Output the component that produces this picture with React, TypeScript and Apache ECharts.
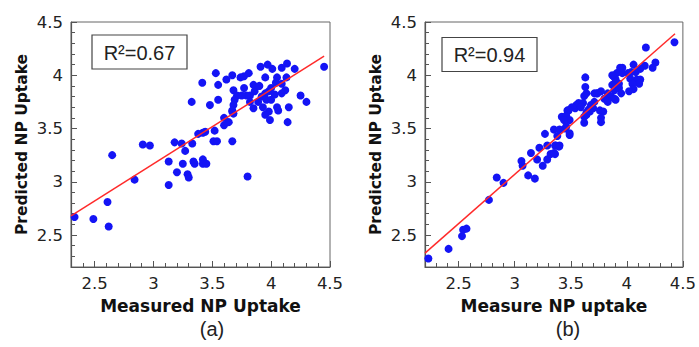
import React, { useEffect, useRef } from "react";
import * as echarts from "echarts";

// ---- Data ----
// (a) Measured vs Predicted NP Uptake
const pointsA: [number, number][] = [
  [2.33, 2.67], [2.49, 2.65], [2.62, 2.58], [2.61, 2.81], [2.65, 3.25], [2.84, 3.02],
  [2.91, 3.35], [2.97, 3.34], [3.13, 2.97], [3.13, 3.19], [3.2, 3.09], [3.25, 3.17],
  [3.27, 3.29], [3.18, 3.37], [3.24, 3.36], [3.29, 3.07], [3.3, 3.04], [3.33, 3.36],
  [3.34, 3.19], [3.35, 3.17], [3.42, 3.21], [3.42, 3.17], [3.45, 3.17], [3.8, 3.05],
  [3.51, 3.38], [3.54, 3.38], [3.67, 3.38], [3.38, 3.45], [3.42, 3.46], [3.44, 3.47],
  [3.52, 3.48], [3.6, 3.6], [3.64, 3.56], [3.6, 3.53], [3.67, 3.66],
  [3.91, 4.08], [3.97, 4.1], [4.01, 4.06], [4.09, 4.07], [4.135, 4.11], [4.2, 4.06], [4.45, 4.08],
  [3.53, 4.02], [3.67, 4.0], [3.74, 3.98], [3.77, 3.99], [3.81, 4.02], [3.62, 3.96],
  [3.95, 3.98], [4.05, 3.98], [4.13, 3.98], [3.415, 3.93], [3.55, 3.91], [3.68, 3.86],
  [3.325, 3.75], [3.48, 3.72], [3.55, 3.77],
  [3.85, 3.91], [4.09, 3.92], [4.12, 3.86], [4.0, 3.88], [3.98, 3.85], [3.95, 3.83],
  [3.92, 3.8], [3.86, 3.85], [3.82, 3.81], [3.79, 3.81], [3.75, 3.81], [3.71, 3.81],
  [3.69, 3.77], [3.68, 3.72], [3.67, 3.67], [3.68, 3.64], [3.82, 3.75], [3.85, 3.69],
  [3.89, 3.75], [3.96, 3.77], [4.0, 3.77], [4.05, 3.7], [4.06, 3.67], [4.09, 3.83],
  [3.98, 3.66], [3.95, 3.63], [3.99, 3.58], [4.15, 3.7], [4.14, 3.56], [4.25, 3.81],
  [4.3, 3.75], [3.93, 3.7], [3.9, 3.9], [4.04, 3.93], [3.77, 3.88], [4.03, 3.82],
];
const fitA: [number, number][] = [[2.3, 2.68], [4.45, 4.18]];

// (b) Measure vs Predicted NP uptake
const pointsB: [number, number][] = [
  [2.23, 2.28], [2.41, 2.37], [2.53, 2.49], [2.54, 2.55], [2.57, 2.56], [2.77, 2.83],
  [2.84, 3.04], [2.9, 2.99], [3.06, 3.195], [3.07, 3.15], [3.12, 3.06], [3.18, 3.03],
  [3.145, 3.27], [3.2, 3.21], [3.25, 3.15], [3.22, 3.32], [3.29, 3.21], [3.29, 3.34],
  [3.32, 3.26], [3.36, 3.26], [3.36, 3.34], [3.4, 3.34], [3.365, 3.34], [3.395, 3.33],
  [3.35, 3.27], [3.27, 3.45], [3.35, 3.49], [3.38, 3.43], [3.42, 3.61], [3.45, 3.5],
  [3.49, 3.44], [3.47, 3.67], [3.51, 3.7], [3.54, 3.69], [3.55, 3.72], [3.58, 3.72],
  [3.61, 3.74], [3.62, 3.805], [3.63, 3.89], [3.63, 3.98], [3.62, 3.61], [3.62, 3.555],
  [3.66, 3.68], [3.64, 3.65], [3.73, 3.83], [3.71, 3.75],
  [4.425, 4.31], [4.17, 4.26], [4.255, 4.12], [4.23, 4.07], [4.16, 4.09], [4.12, 4.06],
  [4.06, 4.1], [3.96, 4.07], [3.94, 4.07], [3.91, 4.02], [3.96, 4.02], [4.01, 4.02],
  [4.08, 4.03], [4.09, 3.96], [4.12, 3.96], [4.11, 3.92], [4.03, 3.97], [4.05, 3.92],
  [4.06, 3.87], [4.02, 3.85], [3.88, 3.99], [3.9, 3.96], [3.93, 3.92], [3.87, 3.91],
  [3.89, 3.86], [3.93, 3.88], [3.95, 3.83], [3.83, 3.83], [3.86, 3.8], [3.89, 3.78],
  [3.9, 3.77], [3.77, 3.85], [3.74, 3.83], [3.71, 3.83], [3.8, 3.78], [3.83, 3.75],
  [3.64, 3.83], [3.57, 3.74], [3.59, 3.7], [3.48, 3.67], [3.68, 3.72], [3.7, 3.69],
  [3.67, 3.66], [3.64, 3.63], [3.76, 3.67], [3.79, 3.66], [3.77, 3.6], [3.77, 3.56],
  [3.49, 3.58], [3.46, 3.62], [3.44, 3.58], [3.46, 3.52], [3.49, 3.455], [3.4, 3.49],
  [4.04, 4.03], [3.87, 4.0],
];
const fitB: [number, number][] = [[2.2, 2.33], [4.43, 4.39]];

const majorTicks = [2.5, 3, 3.5, 4, 4.5];
const xMinA = 2.3;
const xMinB = 2.2;
const yMin = 2.2;
const axisMax = 4.5;
const xNameA = "Measured NP Uptake";
const xNameB = "Measure NP uptake";
const yName = "Predicted NP Uptake";
const r2A = "R²=0.67";
const r2B = "R²=0.94";
const panelA = "(a)";
const panelB = "(b)";

const minorTicks = (min: number) => {
  const out: number[] = [];
  for (let k = Math.round(min * 10); k <= Math.round(axisMax * 10); k++) {
    if (k % 5 !== 0) out.push(k / 10);
  }
  return out;
};

const AXIS_COLOR = "#555";
const FONT = "DejaVu Sans";

function axisPair(dim: "x" | "y", gridIndex: number, min: number, name: string) {
  const pos = dim === "x" ? "bottom" : "left";
  const main: any = {
    type: "value",
    gridIndex,
    min,
    max: axisMax,
    position: pos,
    name,
    nameLocation: "middle",
    nameGap: dim === "x" ? 30 : 41,
    nameTextStyle: {
      fontFamily: FONT,
      fontWeight: "bold",
      fontSize: dim === "x" ? 17 : 15.5,
      color: "#111",
    },
    axisLine: { show: true, onZero: false, lineStyle: { color: AXIS_COLOR, width: 1.2 } },
    axisTick: { show: true, inside: true, length: 6, customValues: majorTicks, lineStyle: { color: AXIS_COLOR } },
    axisLabel: { show: true, customValues: majorTicks, fontFamily: FONT, fontSize: 16.5, color: "#222", margin: 8 },
    splitLine: { show: false },
  };
  const minor: any = {
    type: "value",
    gridIndex,
    min,
    max: axisMax,
    position: pos,
    axisLine: { show: false, onZero: false },
    axisTick: { show: true, inside: true, length: 4, customValues: minorTicks(min), lineStyle: { color: AXIS_COLOR } },
    axisLabel: { show: false },
    splitLine: { show: false },
  };
  return [main, minor];
}

export default function App() {
  const ref = useRef<HTMLDivElement>(null);
  useEffect(() => {
    if (!ref.current) return;
    const chart = echarts.init(ref.current, undefined, { renderer: "svg" });
    const scatterStyle = { color: "#1414f5", opacity: 1 };
    chart.setOption({
      animation: false,
      backgroundColor: "#ffffff",
      grid: [
        { left: 71, top: 22, width: 259, height: 245, show: true, borderColor: "#666", borderWidth: 1 },
        { left: 425, top: 22, width: 261, height: 245, show: true, borderColor: "#666", borderWidth: 1 },
      ],
      xAxis: [...axisPair("x", 0, xMinA, xNameA), ...axisPair("x", 1, xMinB, xNameB)],
      yAxis: [...axisPair("y", 0, yMin, yName), ...axisPair("y", 1, yMin, yName)],
      series: [
        { type: "scatter", xAxisIndex: 0, yAxisIndex: 0, data: pointsA, symbolSize: 8, itemStyle: scatterStyle },
        { type: "line", xAxisIndex: 0, yAxisIndex: 0, data: fitA, symbol: "none", lineStyle: { color: "#ff2a2a", width: 1.5 } },
        { type: "scatter", xAxisIndex: 2, yAxisIndex: 2, data: pointsB, symbolSize: 8, itemStyle: scatterStyle },
        { type: "line", xAxisIndex: 2, yAxisIndex: 2, data: fitB, symbol: "none", lineStyle: { color: "#ff2a2a", width: 1.5 } },
      ],
      graphic: [
        { type: "rect", shape: { x: 92, y: 35, width: 95, height: 34 }, style: { fill: "#fff", stroke: "#444", lineWidth: 1.2 }, z: 100 },
        { type: "text", x: 139.5, y: 52.5, style: { text: r2A, fontFamily: "Liberation Sans", fontSize: 20, fill: "#222", align: "center", verticalAlign: "middle" }, z: 101 },
        { type: "rect", shape: { x: 442, y: 37.5, width: 95, height: 34 }, style: { fill: "#fff", stroke: "#444", lineWidth: 1.2 }, z: 100 },
        { type: "text", x: 489.5, y: 55, style: { text: r2B, fontFamily: "Liberation Sans", fontSize: 20, fill: "#222", align: "center", verticalAlign: "middle" }, z: 101 },
        { type: "text", x: 212, y: 329, style: { text: panelA, fontFamily: "Liberation Sans", fontSize: 20, fill: "#222", align: "center", verticalAlign: "middle" } },
        { type: "text", x: 568, y: 329, style: { text: panelB, fontFamily: "Liberation Sans", fontSize: 20, fill: "#222", align: "center", verticalAlign: "middle" } },
      ],
    });
    return () => chart.dispose();
  }, []);
  return (
    <div
      ref={ref}
      style={{ position: "fixed", left: 0, top: 0, width: 699, height: 347, background: "#fff" }}
    />
  );
}
